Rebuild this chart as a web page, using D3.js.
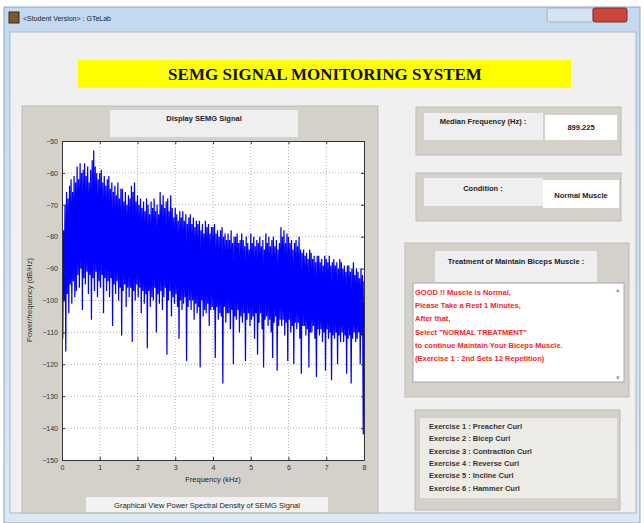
<!DOCTYPE html>
<html>
<head>
<meta charset="utf-8">
<script src="https://cdn.jsdelivr.net/npm/d3@7"></script>
<style>
  html, body { margin: 0; padding: 0; background: #fff; }
  svg { display: block; font-family: "Liberation Sans", Arial, sans-serif; }
</style>
</head>
<body>
<div id="chart"></div>
<script>
// PSD, one value every 0.02 kHz (0 .. 8 kHz), dB/Hz
const psdStepKHz = 0.02;
const psdDb = [
  -90, -112, -78, -100, -70, -116, -66, -98, -68, -104,
  -64, -95, -62, -101, -66, -94, -61, -99, -63, -97,
  -58, -92, -62, -96, -57, -90, -60, -103, -59, -93,
  -57, -95, -61, -91, -58, -98, -63, -92, -59, -106,
  -56, -93, -53, -97, -58, -91, -60, -99, -62, -94,
  -60, -96, -59, -92, -63, -104, -61, -93, -64, -97,
  -62, -94, -61, -99, -65, -93, -63, -108, -66, -95,
  -64, -98, -67, -94, -63, -100, -68, -96, -65, -111,
  -65, -97, -69, -95, -66, -102, -70, -96, -67, -99,
  -68, -96, -64, -113, -66, -97, -63, -100, -69, -95,
  -67, -99, -70, -96, -68, -104, -71, -97, -69, -101,
  -72, -98, -68, -115, -70, -97, -73, -102, -69, -99,
  -71, -100, -68, -96, -72, -110, -70, -98, -73, -101,
  -66, -97, -70, -103, -67, -99, -71, -96, -69, -117,
  -68, -100, -72, -97, -67, -105, -71, -99, -74, -101,
  -71, -98, -73, -102, -75, -112, -72, -100, -74, -103,
  -72, -101, -75, -99, -73, -119, -76, -102, -74, -100,
  -73, -103, -76, -100, -74, -106, -77, -101, -75, -104,
  -76, -102, -75, -121, -78, -100, -76, -105, -79, -103,
  -75, -104, -77, -101, -76, -108, -79, -103, -77, -102,
  -77, -103, -76, -118, -79, -102, -78, -106, -80, -104,
  -78, -105, -77, -126, -80, -102, -79, -107, -81, -104,
  -79, -104, -81, -109, -78, -103, -82, -120, -80, -105,
  -80, -106, -79, -103, -82, -110, -81, -105, -79, -107,
  -81, -104, -83, -119, -80, -106, -82, -104, -84, -108,
  -79, -106, -82, -105, -80, -112, -83, -104, -81, -117,
  -82, -107, -80, -104, -83, -109, -81, -121, -84, -106,
  -79, -105, -82, -108, -80, -106, -83, -110, -81, -118,
  -80, -107, -83, -105, -81, -122, -84, -108, -82, -106,
  -77, -108, -80, -106, -78, -111, -82, -107, -79, -119,
  -80, -106, -82, -110, -81, -108, -84, -120, -82, -107,
  -81, -109, -83, -107, -80, -112, -84, -123, -85, -108,
  -84, -108, -86, -111, -85, -109, -87, -121, -84, -110,
  -85, -110, -87, -108, -86, -112, -88, -124, -86, -109,
  -86, -111, -88, -109, -87, -113, -89, -110, -86, -122,
  -87, -109, -88, -112, -86, -110, -89, -125, -88, -111,
  -87, -112, -89, -110, -88, -120, -90, -111, -87, -113,
  -88, -110, -90, -113, -89, -111, -91, -123, -89, -112,
  -89, -111, -91, -126, -90, -112, -88, -110, -92, -113,
  -90, -112, -91, -110, -93, -120, -90, -111, -92, -142,
  -94
];
const xTicks = [0, 1, 2, 3, 4, 5, 6, 7, 8];
const yTicks = [-50, -60, -70, -80, -90, -100, -110, -120, -130, -140, -150];

const medianFreq = "899.225";
const condition = "Normal Muscle";
const treatmentLines = [
  "GOOD !! Muscle is Normal,",
  "Please Take a Rest 1 Minutes,",
  "After that,",
  "Select \"NORMAL TREATMENT\"",
  "to continue Maintain Your Biceps Muscle.",
  "(Exercise 1 : 2nd Sets 12 Repetition)"
];
const exerciseLines = [
  "Exercise 1 : Preacher Curl",
  "Exercise 2 : Bicep Curl",
  "Exercise 3 : Contraction Curl",
  "Exercise 4 : Reverse Curl",
  "Exercise 5 : Incline Curl",
  "Exercise 6 : Hammer Curl"
];

const width = 644, height = 523;
const svg = d3.select("#chart").append("svg")
  .attr("width", width).attr("height", height);

// window frame
const defs = svg.append("defs");
const tg = defs.append("linearGradient").attr("id", "titlebar")
  .attr("x1", 0).attr("y1", 0).attr("x2", 0).attr("y2", 1);
tg.append("stop").attr("offset", "0%").attr("stop-color", "#c3d9f0");
tg.append("stop").attr("offset", "100%").attr("stop-color", "#dbe8f6");

svg.append("rect").attr("x", 4).attr("y", 7).attr("width", 636).attr("height", 516)
  .attr("fill", "url(#titlebar)").attr("stroke", "#8fa6c0");
svg.append("rect").attr("x", 10).attr("y", 32).attr("width", 626).attr("height", 481)
  .attr("fill", "#f0f0f0").attr("stroke", "#a9b7c8");

// icon + title
svg.append("rect").attr("x", 9).attr("y", 12).attr("width", 10).attr("height", 11)
  .attr("fill", "#7a5a2a").attr("stroke", "#3a2a10");
svg.append("text").attr("x", 23).attr("y", 21).attr("font-size", 7).attr("fill", "#222")
  .text("<Student Version> : GTeLab");
// window buttons
svg.append("rect").attr("x", 547).attr("y", 8).attr("width", 46).attr("height", 14)
  .attr("fill", "#d5e3f2").attr("stroke", "#9fb3ca").attr("rx", 2);
svg.append("rect").attr("x", 593).attr("y", 8).attr("width", 34).attr("height", 14)
  .attr("fill", "#c8463a").attr("stroke", "#8e2a22").attr("rx", 2);

// banner
svg.append("rect").attr("x", 78).attr("y", 60).attr("width", 493).attr("height", 28)
  .attr("fill", "#ffff00");
svg.append("text").attr("x", 325).attr("y", 80).attr("text-anchor", "middle")
  .attr("font-family", "'Liberation Serif', 'Times New Roman', serif")
  .attr("font-weight", "bold").attr("font-size", 17).attr("fill", "#111")
  .text("SEMG SIGNAL MONITORING SYSTEM");

// helper for gui boxes
function box(x, y, w, h, fill, stroke) {
  return svg.append("rect").attr("x", x).attr("y", y).attr("width", w).attr("height", h)
    .attr("fill", fill).attr("stroke", stroke || "none");
}
function label(x, y, txt, opts) {
  opts = opts || {};
  return svg.append("text").attr("x", x).attr("y", y)
    .attr("text-anchor", opts.anchor || "middle")
    .attr("font-size", opts.size || 8)
    .attr("font-weight", opts.weight || "bold")
    .attr("fill", opts.fill || "#222")
    .text(txt);
}

// plot panel
box(22, 106, 356, 407, "#d4d1ca", "#bdbab3");
box(110, 110, 188, 27, "#efefef");
label(204, 121, "Display SEMG Signal", {size: 7.5});
box(86, 497, 242, 15, "#f2f2f2");
label(207, 508, "Graphical View Power Spectral Density of SEMG Signal", {size: 7.5, weight: "normal"});

// axes
const margin = {left: 62, right: 364, top: 141, bottom: 460};
const x = d3.scaleLinear().domain([0, 8]).range([margin.left, margin.right]);
const y = d3.scaleLinear().domain([-150, -50]).range([margin.bottom, margin.top]);

svg.append("rect").attr("x", margin.left).attr("y", margin.top)
  .attr("width", margin.right - margin.left).attr("height", margin.bottom - margin.top)
  .attr("fill", "#ffffff");

// grid
svg.append("g").selectAll("line").data(xTicks.slice(1, -1)).enter().append("line")
  .attr("x1", d => x(d)).attr("x2", d => x(d))
  .attr("y1", margin.top).attr("y2", margin.bottom)
  .attr("stroke", "#9a9a9a").attr("stroke-dasharray", "1,2").attr("stroke-width", 0.8);
svg.append("g").selectAll("line").data(yTicks.slice(1, -1)).enter().append("line")
  .attr("y1", d => y(d)).attr("y2", d => y(d))
  .attr("x1", margin.left).attr("x2", margin.right)
  .attr("stroke", "#9a9a9a").attr("stroke-dasharray", "1,2").attr("stroke-width", 0.8);

// signal
defs.append("clipPath").attr("id", "plotclip").append("rect")
  .attr("x", margin.left).attr("y", margin.top)
  .attr("width", margin.right - margin.left).attr("height", margin.bottom - margin.top);
const line = d3.line()
  .x((d, i) => x(i * psdStepKHz))
  .y(d => y(d));
svg.append("path").datum(psdDb)
  .attr("clip-path", "url(#plotclip)")
  .attr("d", line)
  .attr("fill", "none").attr("stroke", "#0000ff").attr("stroke-width", 1.25)
  .attr("stroke-linejoin", "bevel");

// axes with inward ticks
const axisColor = "#333";
const xAxis = svg.append("g").attr("transform", `translate(0,${margin.bottom})`)
  .call(d3.axisBottom(x).tickValues(xTicks).tickSizeInner(-3).tickSizeOuter(0).tickPadding(5));
const yAxis = svg.append("g").attr("transform", `translate(${margin.left},0)`)
  .call(d3.axisLeft(y).tickValues(yTicks).tickSizeInner(-3).tickSizeOuter(0).tickPadding(4));
const xTop = svg.append("g").attr("transform", `translate(0,${margin.top})`)
  .call(d3.axisTop(x).tickValues(xTicks).tickSizeInner(-3).tickSizeOuter(0).tickFormat(""));
const yRight = svg.append("g").attr("transform", `translate(${margin.right},0)`)
  .call(d3.axisRight(y).tickValues(yTicks).tickSizeInner(-3).tickSizeOuter(0).tickFormat(""));
[xAxis, yAxis, xTop, yRight].forEach(g => {
  g.select(".domain").attr("stroke", axisColor);
  g.selectAll(".tick line").attr("stroke", axisColor);
  g.selectAll("text").attr("font-size", 7).attr("fill", "#333")
    .attr("font-family", "'Liberation Sans', Arial, sans-serif");
});

label(213, 482, "Frequency (kHz)", {size: 7.5, weight: "normal"});
svg.append("text").attr("transform", "translate(32,300) rotate(-90)")
  .attr("text-anchor", "middle").attr("font-size", 7.5).attr("fill", "#333")
  .text("Power/frequency (dB/Hz)");

// median frequency panel
box(416, 107, 205, 48, "#d4d1ca", "#bdbab3");
box(424, 113, 119, 27, "#efefef");
label(483, 124, "Median Frequency (Hz) :", {size: 7.5});
box(545, 115, 72, 25, "#ffffff");
label(581, 130, medianFreq, {size: 7.5});

// condition panel
box(416, 173, 205, 48, "#d4d1ca", "#bdbab3");
box(424, 178, 119, 28, "#efefef");
label(483, 191, "Condition :", {size: 7.5});
box(543, 180, 76, 28, "#ffffff");
label(581, 198, condition, {size: 7.5});

// treatment panel
box(405, 243, 224, 154, "#d4d1ca", "#bdbab3");
box(435, 251, 162, 31, "#efefef");
label(516, 264, "Treatment of Maintain Biceps Muscle :", {size: 7.5});
box(413, 283, 211, 99, "#ffffff", "#a8a8a8");
svg.append("g").selectAll("text").data(treatmentLines).enter().append("text")
  .attr("x", 415).attr("y", (d, i) => 295 + i * 13.2)
  .attr("font-size", 7.5).attr("font-weight", "bold").attr("fill", "#ff2020")
  .text(d => d);
label(618, 292, "\u25B4", {size: 7, weight: "normal", fill: "#999"});
label(618, 380, "\u25BE", {size: 7, weight: "normal", fill: "#999"});

// exercise panel
box(415, 410, 205, 100, "#d4d1ca", "#bdbab3");
box(420, 418, 197, 80, "#ecebe6");
svg.append("g").selectAll("text").data(exerciseLines).enter().append("text")
  .attr("x", 429).attr("y", (d, i) => 429 + i * 12.3)
  .attr("font-size", 7.5).attr("font-weight", "bold").attr("fill", "#333")
  .text(d => d);
</script>
</body>
</html>
